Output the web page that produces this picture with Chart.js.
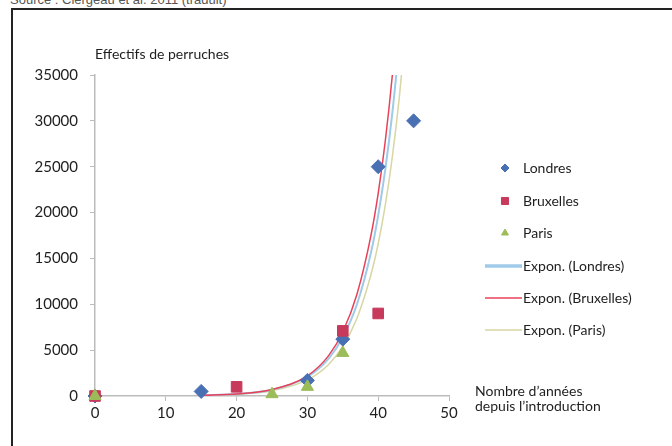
<!DOCTYPE html>
<html>
<head>
<meta charset="utf-8">
<script src="https://cdn.jsdelivr.net/npm/chart.js@4/dist/chart.umd.min.js"></script>
<style>
  body { margin: 0; background: #fff; }
  #wrap { position: relative; width: 672px; height: 446px; overflow: hidden; }
  #caption { position: absolute; left: 10px; top: -7px; font: 13px "Liberation Sans", Arial, sans-serif; line-height: 13px; color: #555; white-space: nowrap; }
  #frame { position: absolute; left: 11px; top: 8px; width: 700px; height: 500px; border-top: 2px solid #222; border-left: 2px solid #222; }
  #chartBox { position: absolute; left: 0; top: 0; width: 672px; height: 446px; }
</style>
</head>
<body>
<div id="wrap">
  <div id="caption">Source : Clergeau et al. 2011 (traduit)</div>
  <div id="frame"></div>
  <div id="chartBox"><canvas id="perruchesChart" width="672" height="446"></canvas></div>
</div>
<script>
// observed counts (years since introduction, number of parakeets)
const londresYears = [0, 15, 30, 35, 40, 45];
const londresCounts = [0, 500, 1700, 6200, 25000, 30000];
const bruxellesYears = [0, 20, 35, 40];
const bruxellesCounts = [0, 1000, 7100, 9000];
const parisYears = [0, 25, 30, 35];
const parisCounts = [0, 200, 1000, 4700];

// exponential trend curves
const trendYears = [15, 20, 25, 30, 33, 35, 37, 39, 40, 41, 42, 43, 44];
const trendLondres = [70, 220, 680, 2080, 4080, 6400, 10000, 15700, 19700, 24700, 30900, 38700, 48000];
const trendBruxelles = [70, 220, 700, 2200, 4400, 7000, 11100, 17600, 22100, 27800, 35000, 44000, 55000];
const trendParis = [60, 185, 570, 1750, 3440, 5400, 8470, 13300, 16600, 20800, 26100, 32700, 40900];

const yTicks = [0, 5000, 10000, 15000, 20000, 25000, 30000, 35000];
const xTicks = [0, 10, 20, 30, 40, 50];

const legendLabels = ['Londres', 'Bruxelles', 'Paris', 'Expon. (Londres)', 'Expon. (Bruxelles)', 'Expon. (Paris)'];

const toPoints = (xs, ys) => xs.map((x, i) => ({ x: x, y: ys[i] }));

const colors = {
  londres: '#4a70b4',
  bruxelles: '#c73a5c',
  paris: '#9cbc5a',
  trendLondres: '#9fcbe8',
  trendBruxelles: '#e8415a',
  trendParis: '#d8d6a4',
};

const FONT = 'Lato, "Open Sans", sans-serif';
const TEXT = '#1e1e1e';

// legend + axis titles drawn at fixed places, like the original sheet
const extrasPlugin = {
  id: 'extras',
  afterDraw(chart) {
    const ctx = chart.ctx;
    ctx.save();
    ctx.fillStyle = TEXT;
    ctx.font = '14px ' + FONT;
    ctx.textBaseline = 'middle';
    ctx.textAlign = 'left';
    ctx.fillText('Effectifs de perruches', 95, 54);
    ctx.fillText('Nombre d\u2019ann\u00e9es', 475, 391);
    ctx.fillText('depuis l\u2019introduction', 475, 406);

    const rows = [168, 201, 233, 266, 298, 330];
    const ds = chart.data.datasets;
    rows.forEach((y, i) => {
      const d = ds[i];
      if (d.showLine) {
        ctx.strokeStyle = d.borderColor;
        ctx.lineWidth = i === 3 ? 3.5 : d.borderWidth;
        ctx.beginPath();
        ctx.moveTo(485, y);
        ctx.lineTo(522, y);
        ctx.stroke();
      } else {
        const r = i === 1 ? 5 : 4;
        ctx.fillStyle = d.backgroundColor;
        ctx.strokeStyle = d.borderColor;
        ctx.lineWidth = 1;
        Chart.helpers.drawPoint(ctx, { pointStyle: d.pointStyle, radius: r, borderWidth: 1 }, 505, y);
      }
      ctx.fillStyle = TEXT;
      ctx.fillText(legendLabels[i], 523, y);
    });
    ctx.restore();
  },
};

const ctx = document.getElementById('perruchesChart');

const config = {
  type: 'scatter',
  data: {
    datasets: [
      {
        label: legendLabels[0],
        data: toPoints(londresYears, londresCounts),
        pointStyle: 'rectRot',
        pointRadius: 7,
        backgroundColor: colors.londres,
        borderColor: colors.londres,
        clip: false,
        order: 2,
      },
      {
        label: legendLabels[1],
        data: toPoints(bruxellesYears, bruxellesCounts),
        pointStyle: 'rect',
        pointRadius: 7.5,
        backgroundColor: colors.bruxelles,
        borderColor: colors.bruxelles,
        clip: false,
        order: 1,
      },
      {
        label: legendLabels[2],
        data: toPoints(parisYears, parisCounts),
        pointStyle: 'triangle',
        pointRadius: 7,
        backgroundColor: colors.paris,
        borderColor: colors.paris,
        clip: false,
        order: 0,
      },
      {
        label: legendLabels[3],
        data: toPoints(trendYears, trendLondres),
        showLine: true,
        pointRadius: 0,
        borderColor: colors.trendLondres,
        borderWidth: 2,
        cubicInterpolationMode: 'monotone',
        order: 4,
      },
      {
        label: legendLabels[4],
        data: toPoints(trendYears, trendBruxelles),
        showLine: true,
        pointRadius: 0,
        borderColor: colors.trendBruxelles,
        borderWidth: 1.5,
        cubicInterpolationMode: 'monotone',
        order: 3,
      },
      {
        label: legendLabels[5],
        data: toPoints(trendYears, trendParis),
        showLine: true,
        pointRadius: 0,
        borderColor: colors.trendParis,
        borderWidth: 1.5,
        cubicInterpolationMode: 'monotone',
        order: 5,
      },
    ],
  },
  options: {
    responsive: false,
    animation: false,
    layout: {
      padding: { left: 0, top: 75, right: 223, bottom: 0 },
    },
    plugins: {
      legend: { display: false },
      tooltip: { enabled: false },
    },
    scales: {
      x: {
        type: 'linear',
        min: 0,
        max: 50,
        afterBuildTicks: (scale) => { scale.ticks = xTicks.map((v) => ({ value: v })); },
        afterFit: (scale) => { scale.height = 50; },
        grid: { drawOnChartArea: false, tickLength: 5, color: '#bbb' },
        border: { color: '#bbb', width: 1.5 },
        ticks: { padding: 3, color: TEXT, font: { family: FONT, size: 15 } },
      },
      y: {
        type: 'linear',
        min: 0,
        max: 35000,
        afterBuildTicks: (scale) => { scale.ticks = yTicks.map((v) => ({ value: v })); },
        afterFit: (scale) => { scale.width = 95; },
        grid: { drawOnChartArea: false, tickLength: 5, color: '#bbb' },
        border: { color: '#bbb', width: 1.5 },
        ticks: {
          padding: 12,
          color: TEXT,
          font: { family: FONT, size: 15 },
          callback: (v) => String(v),
        },
      },
    },
  },
  plugins: [extrasPlugin],
};

new Chart(ctx, config);
</script>
</body>
</html>
